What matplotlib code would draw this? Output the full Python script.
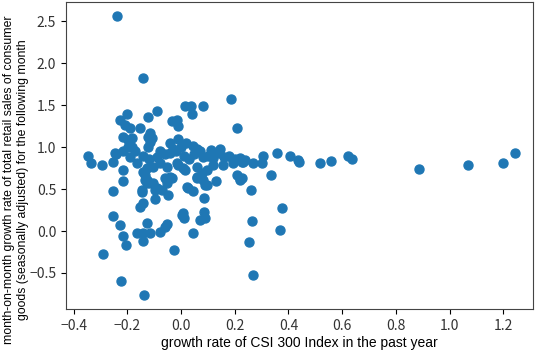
import numpy as np
import matplotlib
matplotlib.use("Agg")
import matplotlib.pyplot as plt

# growth rate of CSI 300 (x) vs next-month retail sales growth (y)
csi_growth = [
    -0.238, -0.141, -0.200, -0.123, -0.089, -0.227, 0.015, 0.037, 0.082, 0.041,
    0.186, 0.208, -0.033, -0.015, -0.011, -0.208, -0.190, -0.152, -0.115, -0.123,
    -0.216, -0.182, -0.123, -0.115, -0.197, -0.041, -0.011, 0.045, 0.145, -0.346,
    -0.245, 0.357, 0.405, 0.435, 0.305, 0.439, 0.517, 0.558, 0.621, 0.636,
    0.888, 1.067, 1.200, 1.242, 0.375, -0.335, -0.294, -0.253, -0.242, -0.216,
    -0.216, -0.253, -0.253, -0.227, -0.216, -0.204, -0.290, -0.223, -0.138, -0.145,
    -0.141, -0.152, -0.097, -0.164, -0.141, -0.115, -0.126, -0.141, -0.078, -0.059,
    -0.052, -0.026, -0.048, 0.004, 0.011, 0.007, 0.045, 0.022, 0.045, 0.086,
    0.071, 0.089, 0.086, 0.059, 0.089, 0.130, 0.219, 0.260, 0.264, 0.253,
    0.268, 0.335, 0.368, 0.268, 0.227, -0.052, -0.033, -0.071, -0.097, -0.115,
    -0.134, -0.141, 0.015, -0.011, -0.197, -0.182, -0.216, -0.108, -0.078, -0.041,
    0.082, 0.193, 0.230, 0.300, -0.145, -0.126, -0.089, 0.026, -0.059, -0.041,
    -0.052, -0.164, -0.126, -0.104, -0.078, -0.134, -0.126, -0.104, -0.052, -0.015,
    0.007, 0.059, 0.078, 0.082, 0.097, 0.059, 0.119, 0.156, 0.193, 0.097,
    0.208, 0.219, 0.227, -0.090, -0.060, -0.020, 0.010, 0.030, 0.050, 0.070,
    0.100, 0.120, 0.140, 0.160, 0.180, 0.200, 0.220, 0.240, -0.170, -0.140,
    -0.120, -0.190, 0.000, 0.020, -0.030, 0.060, 0.110,
]
retail_growth = [
    2.56, 1.82, 1.40, 1.36, 1.43, 1.33, 1.49, 1.49, 1.49, 1.39,
    1.57, 1.23, 1.31, 1.32, 1.25, 1.26, 1.23, 1.23, 1.17, 1.12,
    1.12, 1.11, 1.00, 1.06, 1.00, 1.05, 1.10, 1.01, 0.98, 0.90,
    0.93, 0.93, 0.90, 0.85, 0.89, 0.82, 0.81, 0.83, 0.89, 0.86,
    0.74, 0.79, 0.81, 0.93, 0.27, 0.81, 0.79, 0.82, 0.92, 0.73,
    0.60, 0.48, 0.18, 0.07, -0.06, -0.17, -0.27, -0.60, -0.76, 0.49,
    0.33, 0.29, 0.38, -0.02, -0.02, -0.02, 0.10, -0.12, -0.01, 0.05,
    0.08, -0.23, 0.43, 0.19, 0.15, 0.21, -0.02, 0.52, 0.48, 0.39,
    0.13, 0.15, 0.23, 0.63, 0.55, 0.60, 0.62, 0.49, 0.12, -0.13,
    -0.52, 0.67, 0.01, 0.81, 0.82, 0.61, 0.63, 0.49, 0.49, 0.57,
    0.61, 0.70, 0.73, 0.79, 1.08, 1.00, 0.96, 1.11, 0.96, 0.93,
    0.88, 0.85, 0.82, 0.81, 0.46, 0.57, 0.51, 0.51, 0.63, 0.64,
    0.57, 0.81, 0.75, 0.76, 0.81, 0.67, 0.61, 0.57, 0.76, 0.81,
    0.75, 0.76, 0.69, 0.61, 0.55, 0.64, 0.79, 0.79, 0.81, 0.73,
    0.67, 0.61, 0.63, 0.88, 0.92, 0.95, 0.90, 0.86, 0.92, 0.95,
    0.90, 0.87, 0.93, 0.88, 0.90, 0.86, 0.87, 0.85, 0.95, 0.90,
    0.86, 0.88, 1.00, 1.05, 0.98, 0.98, 0.97,
]

x_ticks = [-0.4, -0.2, 0.0, 0.2, 0.4, 0.6, 0.8, 1.0, 1.2]
y_ticks = [-0.5, 0.0, 0.5, 1.0, 1.5, 2.0, 2.5]

fig = plt.figure(figsize=(5.39, 3.56), dpi=100)
ax = fig.add_axes([0.1225, 0.132, 0.866, 0.862])

ax.scatter(csi_growth, retail_growth, s=42, color="#1f77b4")

ax.set_xlim(-0.428, 1.31)
ax.set_ylim(-0.93, 2.73)
ax.set_xticks(x_ticks)
ax.set_yticks(y_ticks)
ax.set_xticklabels([f"{v:.1f}".replace("-", "\u2212") for v in x_ticks],
                   family=["Noto Sans CJK SC", "DejaVu Sans"], fontsize=10, color="#333333")
ax.set_yticklabels([f"{v:.1f}".replace("-", "\u2212") for v in y_ticks],
                   family=["Noto Sans CJK SC", "DejaVu Sans"], fontsize=10, color="#333333")

ax.set_xlabel("growth rate of CSI 300 Index in the past year",
              family="Liberation Sans", fontsize=10, labelpad=2)
ax.set_ylabel("month-on-month growth rate of total retail sales of consumer\n"
              "goods (seasonally adjusted) for the following month",
              family="Liberation Sans", fontsize=8.8, linespacing=1.2)
ax.yaxis.set_label_coords(-0.08, 0.42)

for sp in ax.spines.values():
    sp.set_color("#444444")

fig.savefig("out.png", dpi=100)
